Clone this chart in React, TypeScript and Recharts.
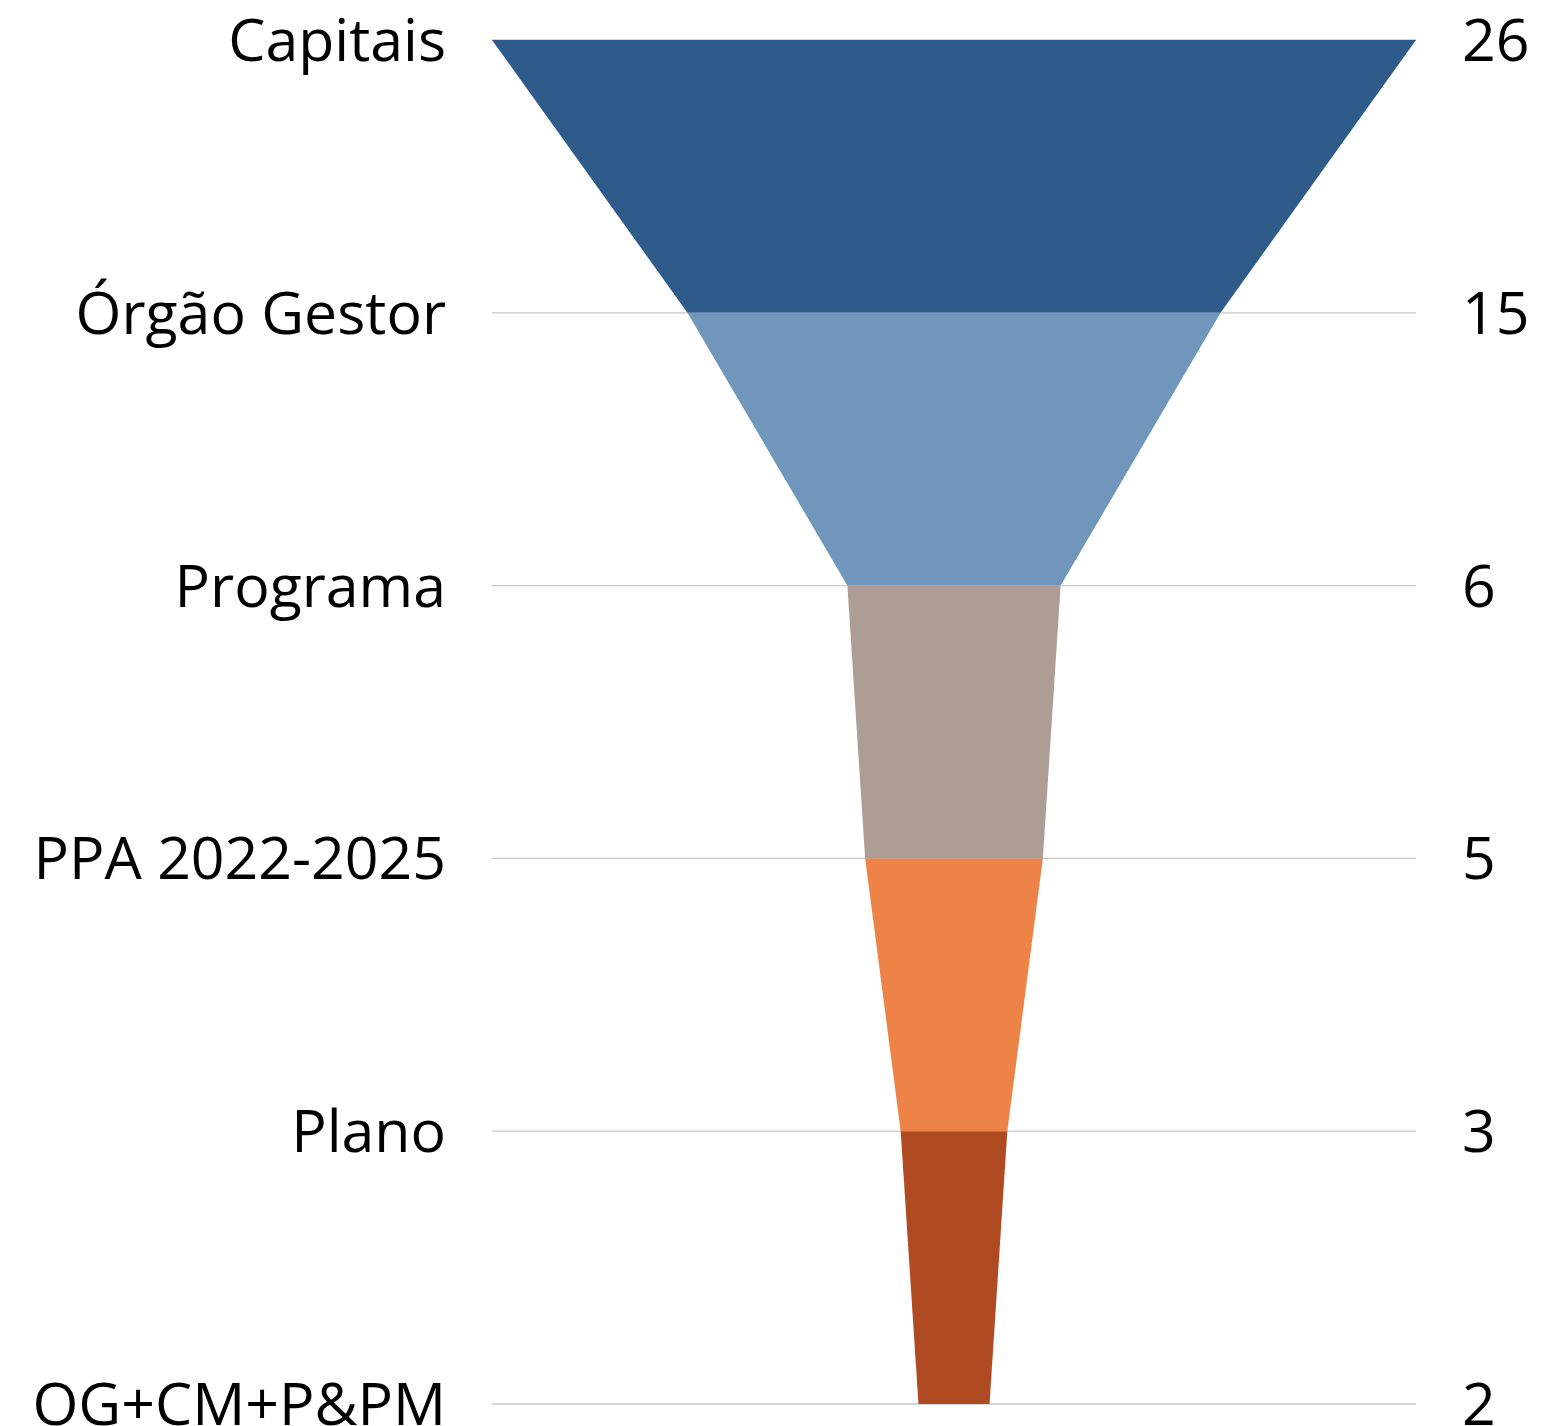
import React from 'react';
import { ComposedChart, Area, XAxis, YAxis, CartesianGrid } from 'recharts';

// funnel stages, top to bottom
const stages = ['Capitais', 'Órgão Gestor', 'Programa', 'PPA 2022-2025', 'Plano', 'OG+CM+P&PM'];
const counts = [26, 15, 6, 5, 3, 2];
const segmentColors = ['#2E5B8A', '#7096BB', '#AD9D94', '#ED8346', '#B04A23'];

const levels = stages.map((_, i) => i);
const gridLevels = levels.slice(1);
const half = Math.max(...counts) / 2;

// one row per stage; segment k spans stage k -> stage k+1, centred on 0
const rows = levels.map((level) => {
  const row: Record<string, any> = { level };
  segmentColors.forEach((_, k) => {
    const v = counts[level];
    row[`s${k}`] = level === k || level === k + 1 ? [-v / 2, v / 2] : null;
  });
  return row;
});

const tickStyle = { fontSize: 59, fill: '#000', fontFamily: '"Open Sans", sans-serif' };

const App: React.FC = () => {
  return (
    <div style={{ position: 'absolute', left: 0, top: 0, background: '#fff' }}>
      <ComposedChart
        width={1563}
        height={1426}
        data={rows}
        layout="vertical"
        margin={{ top: 40, right: 0, bottom: 22, left: 0 }}
      >
        <CartesianGrid yAxisId="g" horizontal vertical={false} stroke="#c8c8c8" strokeWidth={1.3} />
        <XAxis type="number" domain={[-half, half]} hide />
        <YAxis
          dataKey="level"
          type="number"
          domain={[0, levels.length - 1]}
          ticks={levels}
          width={492}
          axisLine={false}
          tickLine={false}
          tickSize={0}
          tickMargin={46}
          interval={0}
          tick={tickStyle}
          tickFormatter={(v: number) => stages[v]}
        />
        <YAxis
          yAxisId="r"
          orientation="right"
          dataKey="level"
          type="number"
          domain={[0, levels.length - 1]}
          ticks={levels}
          width={147}
          axisLine={false}
          tickLine={false}
          tickSize={0}
          tickMargin={46}
          interval={0}
          tick={tickStyle}
          tickFormatter={(v: number) => String(counts[v])}
        />
        <YAxis
          yAxisId="g"
          dataKey="level"
          type="number"
          domain={[0, levels.length - 1]}
          ticks={gridLevels}
          hide
        />
        {segmentColors.map((c, k) => (
          <Area
            key={k}
            dataKey={`s${k}`}
            type="linear"
            fill={c}
            fillOpacity={1}
            stroke="none"
            activeDot={false}
            dot={false}
            isAnimationActive={false}
          />
        ))}
      </ComposedChart>
    </div>
  );
};

export default App;
